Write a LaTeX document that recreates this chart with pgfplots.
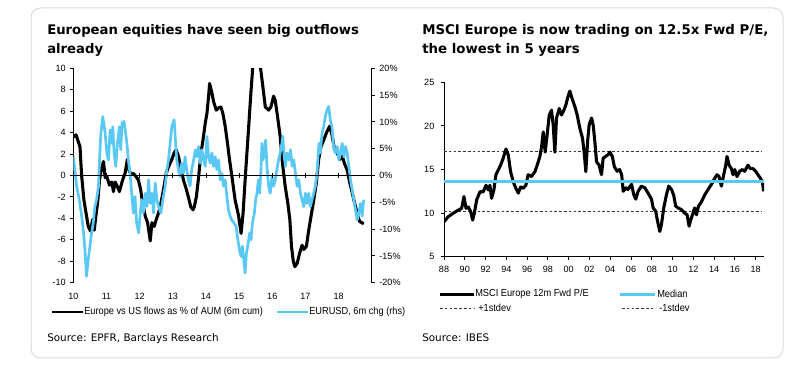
\documentclass[border=0pt]{standalone}
\usepackage{fontspec}
\setmainfont{DejaVu Sans}
\newfontfamily\tickfont{Liberation Sans}
\newfontfamily\legfont[FakeStretch=0.9]{Liberation Sans}
\usepackage{pgfplots}
\usepackage{pgfplotstable}
\pgfplotsset{compat=1.18}
\definecolor{eblue}{RGB}{90,200,245}
\definecolor{boxgray}{RGB}{218,218,218}

\pgfplotstableread{
x y
10.00 3.6
10.08 3.8
10.20 2.7
10.25 0
10.32 -2.3
10.40 -3.8
10.45 -4.75
10.52 -5.2
10.58 -4.1
10.63 -5.1
10.68 -3.8
10.74 -2.3
10.79 -0.4
10.86 0.8
10.91 1.3
10.96 -0.2
11.01 -0.1
11.09 -0.9
11.16 -0.6
11.21 -1.5
11.26 -0.6
11.31 -0.9
11.39 -1.5
11.46 -0.7
11.51 -0.2
11.56 0.2
11.63 1.5
11.69 0.4
11.76 0.1
11.81 0.2
11.89 -0.1
11.96 -0.4
12.03 -1.3
12.09 -2.6
12.17 -3.8
12.24 -4.4
12.32 -6.1
12.37 -4.4
12.44 -4.75
12.50 -4.1
12.57 -3.5
12.64 -2.6
12.72 -1.3
12.80 0.2
12.87 0.8
12.97 1.5
13.04 2.1
13.10 2.4
13.17 1.8
13.24 0.8
13.32 -0.4
13.40 -1.2
13.47 -2.0
13.54 -2.9
13.61 -3.2
13.65 -2.9
13.71 -2.0
13.78 -0.1
13.85 2.1
13.91 3.3
13.98 4.9
14.03 5.8
14.08 7.4
14.11 8.6
14.18 7.7
14.23 6.9
14.31 6.1
14.38 6.3
14.45 6.4
14.51 5.8
14.58 4.6
14.65 3.0
14.71 1.5
14.78 0
14.88 -2.3
14.98 -3.7
15.06 -5.4
15.12 -3.5
15.19 0
15.29 4.6
15.34 7.0
15.42 10.5
15.49 12
15.57 12
15.64 10.2
15.74 7.7
15.79 6.4
15.89 6.1
15.96 6.4
16.04 7.4
16.09 7.0
16.16 5.5
16.24 3.6
16.31 1.1
16.39 -1.0
16.47 -2.6
16.53 -4.1
16.58 -6.6
16.63 -7.9
16.68 -8.5
16.75 -8.2
16.83 -7.2
16.90 -6.5
16.95 -6.9
17.03 -6.6
17.10 -5.1
17.17 -3.8
17.25 -2.3
17.33 -0.7
17.40 1.5
17.47 2.7
17.55 3.3
17.65 4.1
17.73 4.6
17.80 3.8
17.88 2.4
17.96 2.1
18.04 1.5
18.11 1.8
18.18 1.1
18.26 0.5
18.34 -0.7
18.41 -1.6
18.51 -2.9
18.58 -3.8
18.64 -4.3
18.70 -4.4
18.76 -4.5
}\flows

\pgfplotstableread{
x y
10.00 3.5
10.10 -2
10.18 -4.5
10.25 -7.6
10.30 -10.1
10.35 -13.9
10.40 -18.8
10.45 -15.7
10.50 -13.2
10.55 -10.7
10.60 -8.9
10.65 -5.8
10.70 -4.5
10.76 -2
10.79 2.9
10.83 7.9
10.89 11
10.96 7.9
11.01 4.2
11.06 2.9
11.11 8.5
11.16 6
11.19 9.1
11.23 4.2
11.28 1.7
11.33 6
11.39 9.1
11.43 4.8
11.47 9.8
11.53 10.1
11.59 7.3
11.63 5.1
11.66 2.9
11.71 0.4
11.76 -3.3
11.81 -7
11.86 -3.9
11.91 -8.9
11.97 -10.7
12.01 -7.6
12.06 -4.5
12.11 -7
12.17 -3.3
12.22 -5.8
12.27 -0.8
12.32 -5.2
12.37 -3.3
12.42 -7
12.47 -1.4
12.52 -4.5
12.57 -5.8
12.64 -7
12.70 -4.5
12.77 -2
12.82 1.1
12.87 2.9
12.92 6
12.97 9.1
13.04 10.4
13.08 6.6
13.12 2.9
13.17 1.1
13.22 -0.2
13.27 2.3
13.32 0.4
13.37 3.5
13.42 1.1
13.47 -0.8
13.52 -2
13.57 1.1
13.63 2.9
13.68 4.8
13.73 3.5
13.78 5.4
13.83 2.3
13.88 4.8
13.93 2.9
13.98 1.7
14.03 7.3
14.08 3.5
14.13 2.3
14.18 4.2
14.23 1.7
14.28 3.5
14.33 1.1
14.38 2.9
14.43 -0.8
14.48 0.4
14.53 -2
14.58 -0.8
14.63 -3.9
14.68 -6.4
14.73 -7.6
14.78 -8.3
14.85 -8.9
14.91 -9.5
14.95 -11.4
15.01 -13.9
15.06 -15.1
15.10 -13.2
15.14 -15.7
15.18 -18.2
15.22 -14.5
15.26 -13.2
15.32 -10.7
15.36 -12
15.40 -8.9
15.46 -7
15.50 -4.5
15.54 -3.3
15.58 -0.8
15.62 -3.3
15.66 1.1
15.69 6
15.72 2.9
15.76 4.2
15.80 6.6
15.84 1.7
15.89 -2
15.94 -3.3
15.99 -0.2
16.04 -2
16.09 -0.8
16.14 1.1
16.19 2.9
16.24 4.2
16.29 6
16.32 7.3
16.36 3.5
16.40 1.7
16.44 4.2
16.50 2.9
16.55 4.8
16.60 1.7
16.65 2.9
16.70 0.4
16.75 -2
16.80 -0.8
16.85 -3.3
16.90 -4.5
16.95 -5.8
17.00 -3.3
17.05 -5.2
17.10 -3.3
17.15 -5.8
17.20 -4.5
17.25 -3.3
17.30 -2
17.35 0.4
17.38 3.5
17.41 6
17.45 4.2
17.50 7.9
17.55 9.1
17.60 11
17.65 12.2
17.70 12.9
17.75 10.4
17.80 9.1
17.85 5.4
17.90 4.2
17.96 5.4
18.01 2.9
18.06 4.2
18.11 6
18.16 3.5
18.21 5.4
18.26 4.2
18.31 1.7
18.36 -0.8
18.41 -2.7
18.46 -4.5
18.51 -6.4
18.56 -8.3
18.61 -7
18.66 -5.2
18.71 -7.6
18.76 -4.5
}\eurusd

\pgfplotstableread{
x y
1988.00 9.0
1988.41 9.6
1988.90 10.0
1989.38 10.35
1989.70 10.55
1989.92 11.9
1990.12 10.55
1990.34 10.7
1990.56 10.2
1990.76 9.2
1990.92 10.0
1991.14 11.5
1991.46 12.45
1991.78 12.45
1992.04 13.2
1992.26 12.65
1992.42 13.2
1992.58 11.7
1992.80 12.65
1993.00 14.4
1993.22 14.95
1993.45 15.5
1993.70 16.3
1993.96 17.35
1994.18 16.7
1994.41 14.75
1994.66 13.6
1994.92 12.85
1995.15 12.3
1995.37 13.0
1995.63 12.85
1995.88 13.2
1996.10 14.4
1996.43 14.2
1996.75 14.75
1996.97 15.5
1997.23 16.5
1997.39 17.6
1997.55 19.3
1997.74 17.0
1997.93 19.0
1998.13 21.25
1998.35 21.8
1998.51 20.1
1998.67 17.0
1998.83 20.9
1999.09 22.0
1999.31 21.25
1999.54 21.8
1999.73 22.4
1999.96 23.5
2000.12 24.0
2000.31 23.2
2000.60 22.2
2000.82 21.25
2001.08 19.7
2001.33 18.6
2001.49 17.0
2001.65 14.75
2001.82 18.2
2001.97 20.1
2002.20 20.9
2002.36 20.1
2002.52 18.2
2002.68 15.9
2002.93 15.5
2003.16 14.4
2003.32 16.3
2003.55 16.5
2003.80 16.7
2003.96 17.0
2004.20 16.5
2004.40 15.3
2004.67 14.8
2004.90 15.0
2005.10 14.4
2005.25 12.5
2005.50 12.9
2005.70 12.7
2006.05 13.3
2006.27 12.1
2006.46 11.6
2006.68 12.5
2007.00 13.1
2007.33 12.9
2007.64 12.3
2007.97 11.6
2008.13 10.6
2008.38 10.2
2008.55 9.1
2008.77 7.9
2008.93 8.7
2009.15 10.6
2009.41 12.1
2009.63 13.1
2009.90 12.7
2010.10 12.1
2010.30 10.8
2010.53 10.6
2010.85 10.4
2011.17 10.0
2011.40 9.8
2011.59 8.5
2011.72 9.1
2011.91 9.8
2012.13 10.6
2012.30 9.8
2012.50 10.8
2012.78 11.3
2013.10 12.1
2013.41 12.7
2013.74 13.3
2014.06 14.0
2014.28 14.4
2014.47 14.2
2014.70 13.1
2014.92 14.4
2015.12 15.5
2015.24 16.5
2015.44 15.5
2015.66 15.1
2015.82 14.4
2015.98 15.0
2016.20 14.2
2016.46 14.8
2016.72 15.0
2016.94 14.8
2017.26 15.5
2017.49 15.1
2017.74 15.1
2018.00 14.8
2018.22 14.4
2018.45 14.0
2018.64 13.6
2018.77 12.5
}\pe

\begin{document}
\begin{tikzpicture}
\path[use as bounding box] (0,0) rectangle (600pt,279.75pt);
\draw[boxgray, line width=0.75pt, rounded corners=7pt] (23.25pt,11.25pt) rectangle (587.25pt,273.75pt);

% titles (base anchor = baseline of the last line)
\node[anchor=base west, inner sep=0, align=left, font=\bfseries\fontsize{9.9}{14.25}\selectfont]
  at (35.25pt,239.5pt) {European equities have seen big outflows\\already};
\node[anchor=base west, inner sep=0, align=left, font=\bfseries\fontsize{10}{14.25}\selectfont]
  at (316.5pt,239.5pt) {MSCI Europe is now trading on 12.5x Fwd P/E,\\the lowest in 5 years};

% sources
\node[anchor=base west, inner sep=0, font=\fontsize{7.8}{9}\selectfont] at (35.25pt,23.5pt) {Source: EPFR, Barclays Research};
\node[anchor=base west, inner sep=0, font=\fontsize{7.8}{9}\selectfont] at (316.5pt,23.5pt) {Source: IBES};

% ---------- left chart ----------
\begin{axis}[
  at={(55pt,67.7pt)}, anchor=south west,
  scale only axis, width=223.8pt, height=160.8pt,
  xmin=10, xmax=19, ymin=-10, ymax=10,
  axis x line*=bottom, axis y line*=left,
  x axis line style={draw=none},
  xtick={10,...,18}, ytick={-10,-8,...,10},
  tick align=outside, major tick length=2.25pt,
  xtick style={draw=none},
  y axis line style={line width=0.75pt}, ytick style={line width=0.75pt, black},
  tick label style={font=\tickfont\fontsize{6.8}{8}\selectfont},
  /pgf/number format/assume math mode=true,
  xticklabel style={yshift=-1.8pt},
]
\addplot[black, line width=2.3pt, line join=round] table[x=x,y=y] {\flows};
\end{axis}

\begin{axis}[
  at={(55pt,67.7pt)}, anchor=south west,
  scale only axis, width=223.8pt, height=160.8pt,
  xmin=10, xmax=19, ymin=-20, ymax=20,
  axis x line=none, axis y line*=right,
  ytick={-20,-15,...,20},
  yticklabel={\pgfmathprintnumber{\tick}\%},
  tick align=outside, major tick length=2.25pt,
  y axis line style={line width=0.75pt}, ytick style={line width=0.75pt, black},
  tick label style={font=\tickfont\fontsize{6.8}{8}\selectfont},
  /pgf/number format/assume math mode=true,
]
\addplot[eblue, line width=2pt, line join=round] table[x=x,y=y] {\eurusd};
\addplot[black, line width=0.75pt] coordinates {(10,0) (19,0)};
\addplot[black, only marks, mark=|, mark size=1.6pt, mark options={line width=0.6pt}]
  coordinates {(11,0) (12,0) (13,0) (14,0) (15,0) (16,0) (17,0) (18,0)};
\end{axis}

% left legend
\draw[black, line width=2.2pt] (39pt,45.75pt) -- (62.25pt,45.75pt);
\node[anchor=west, inner sep=0, font=\legfont\fontsize{7.7}{9}\selectfont] at (63pt,45.75pt) {Europe vs US flows as \% of AUM (6m cum)};
\draw[eblue, line width=2pt] (208pt,45.75pt) -- (231pt,45.75pt);
\node[anchor=west, inner sep=0, font=\legfont\fontsize{7.7}{9}\selectfont] at (231.75pt,45.75pt) {EURUSD, 6m chg (rhs)};

% ---------- right chart ----------
\begin{axis}[
  at={(333pt,87.2pt)}, anchor=south west,
  scale only axis, width=240pt, height=130.8pt,
  xmin=1988, xmax=2018.8, ymin=5, ymax=25,
  axis x line*=bottom, axis y line*=left,
  xtick={1988,1990,...,2018},
  xticklabels={88,90,92,94,96,98,00,02,04,06,08,10,12,14,16,18},
  ytick={5,10,...,25},
  tick align=outside, major tick length=2.25pt,
  axis line style={line width=0.75pt}, tick style={line width=0.75pt, black},
  tick label style={font=\tickfont\fontsize{6.8}{8}\selectfont},
  yticklabel style={xshift=-1.5pt},
  xticklabel style={yshift=-1pt},
  /pgf/number format/assume math mode=true,
]
\addplot[black!80, line width=0.7pt, dash pattern=on 2pt off 1.6pt] coordinates {(1988,17.05) (2018.6,17.05)};
\addplot[black!80, line width=0.7pt, dash pattern=on 2pt off 1.6pt] coordinates {(1988,10.24) (2018.6,10.24)};
\addplot[black, line width=2.3pt, line join=round] table[x=x,y=y] {\pe};
\addplot[eblue, line width=2.2pt] coordinates {(1988,13.6) (2018.8,13.6)};
\end{axis}

% right legend
\draw[black, line width=2.2pt] (330pt,59pt) -- (355.5pt,59pt);
\node[anchor=west, inner sep=0, font=\legfont\fontsize{7.7}{9}\selectfont] at (356.25pt,59pt) {MSCI Europe 12m Fwd P/E};
\draw[eblue, line width=2.2pt] (465pt,59pt) -- (491.25pt,59pt);
\node[anchor=west, inner sep=0, font=\legfont\fontsize{7.7}{9}\selectfont] at (492.75pt,59pt) {Median};
\draw[black!80, line width=0.7pt, dash pattern=on 2pt off 1.6pt] (330pt,48.5pt) -- (355.5pt,48.5pt);
\node[anchor=west, inner sep=0, font=\legfont\fontsize{7.7}{9}\selectfont] at (358.5pt,48.5pt) {+1stdev};
\draw[black!80, line width=0.7pt, dash pattern=on 2pt off 1.6pt] (466.5pt,48.5pt) -- (491.25pt,48.5pt);
\node[anchor=west, inner sep=0, font=\legfont\fontsize{7.7}{9}\selectfont] at (494.25pt,48.5pt) {-1stdev};
\end{tikzpicture}
\end{document}
